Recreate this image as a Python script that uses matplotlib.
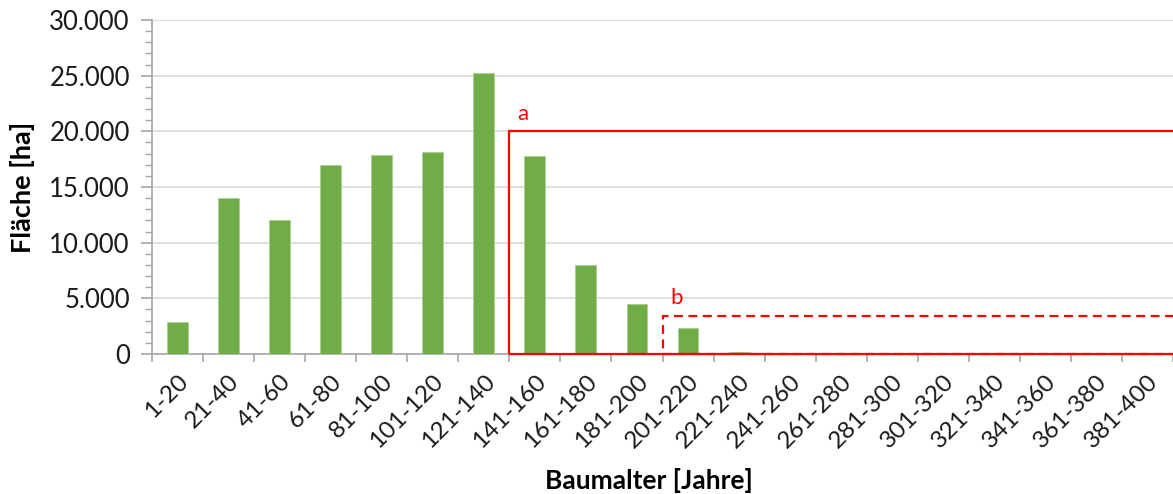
import numpy as np
import matplotlib.pyplot as plt
from matplotlib.patches import Rectangle
from matplotlib.ticker import FuncFormatter, MultipleLocator

plt.rcParams['font.family'] = ['Lato', 'DejaVu Sans']

age_classes = ['1-20', '21-40', '41-60', '61-80', '81-100', '101-120', '121-140',
               '141-160', '161-180', '181-200', '201-220', '221-240', '241-260',
               '261-280', '281-300', '301-320', '321-340', '341-360', '361-380', '381-400']
area_ha = [2900, 14000, 12000, 17000, 17900, 18100, 25200,
           17800, 8000, 4500, 2300, 150, 0,
           0, 0, 0, 0, 0, 0, 0]

# highlighted regions: (first class index, upper area limit, label)
box_a = (7, 20000, 'a')
box_b = (10, 3450, 'b')

green = '#70AD47'
red = '#FF0000'

fig = plt.figure(figsize=[11.73, 4.94], dpi=100)
ax = fig.add_axes([0.1296, 0.2834, 0.8704, 0.6761])

x = np.arange(len(age_classes))
ax.bar(x, area_ha, width=0.41, color=green, edgecolor='#A9D08E', linewidth=0.6, zorder=3)

ax.set_xlim(-0.5, 19.375)
ax.set_ylim(0, 30000)

ax.yaxis.set_major_locator(MultipleLocator(5000))
ax.yaxis.set_minor_locator(MultipleLocator(1000))
ax.yaxis.set_major_formatter(FuncFormatter(lambda v, p: f'{int(v):,}'.replace(',', '.')))
ax.grid(axis='y', color='#D9D9D9', linewidth=1.2, zorder=0)

ax.set_xticks(np.arange(len(age_classes) + 1) - 0.5, minor=False)
ax.set_xticklabels([])
ax.set_xticks(x, minor=True)
ax.set_xticklabels(age_classes, minor=True, rotation=45, ha='right',
                   rotation_mode='anchor', fontsize=17.5, color='#1a1a1a')
ax.tick_params(axis='x', which='minor', length=0, pad=12)
ax.tick_params(axis='x', which='major', length=6, color='#A6A6A6', width=1.2)
ax.tick_params(axis='y', which='major', length=8, color='#A6A6A6', width=1.2,
               labelsize=18.5, labelcolor='#1a1a1a', pad=8)
ax.tick_params(axis='y', which='minor', length=5, color='#A6A6A6', width=1.0)

for s in ['top', 'right']:
    ax.spines[s].set_visible(False)
for s in ['left', 'bottom']:
    ax.spines[s].set_color('#A6A6A6')
    ax.spines[s].set_linewidth(1.2)

x_end = len(age_classes) + 1
for (i0, top, lab), ls in [(box_a, '-'), (box_b, (0, (4, 2.5)))]:
    left = i0 - 0.5
    ax.add_patch(Rectangle((left, 0), x_end - left, top, fill=False, edgecolor=red,
                           linewidth=1.6, linestyle=ls, zorder=4, clip_on=False))
    ax.text(left + 0.15, top + 700, lab, color=red, fontsize=16, ha='left', va='bottom')

ax.set_xlabel('Baumalter [Jahre]', fontsize=19, fontweight='bold', labelpad=12)
ax.xaxis.label.set_x(0.487)
ax.set_ylabel('Fläche [ha]', fontsize=19.5, fontweight='bold', labelpad=10)

plt.savefig('out.png', dpi=100)
